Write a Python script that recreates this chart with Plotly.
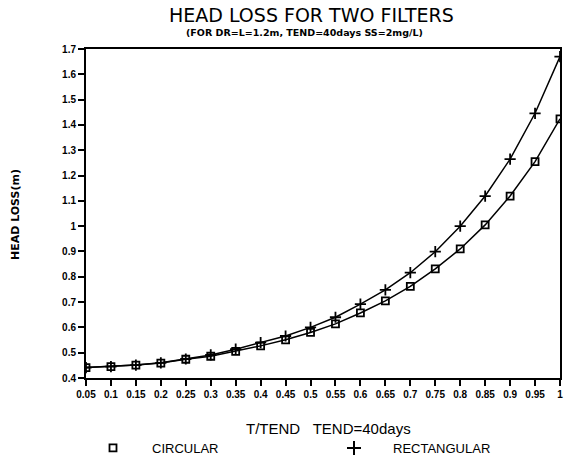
import plotly.graph_objects as go

# ---- data ----
t_ratio = [0.05, 0.1, 0.15, 0.2, 0.25, 0.3, 0.35, 0.4, 0.45, 0.5,
           0.55, 0.6, 0.65, 0.7, 0.75, 0.8, 0.85, 0.9, 0.95, 1.0]
circular = [0.441, 0.445, 0.451, 0.459, 0.474, 0.486, 0.505, 0.527, 0.551, 0.580,
            0.614, 0.657, 0.705, 0.762, 0.831, 0.910, 1.005, 1.119, 1.255, 1.424]
rectangular = [0.441, 0.445, 0.451, 0.460, 0.475, 0.491, 0.514, 0.540, 0.566, 0.600,
               0.640, 0.692, 0.748, 0.816, 0.899, 1.000, 1.119, 1.265, 1.446, 1.670]
x_ticks = t_ratio
x_tick_labels = ["0.05", "0.1", "0.15", "0.2", "0.25", "0.3", "0.35", "0.4", "0.45", "0.5",
                 "0.55", "0.6", "0.65", "0.7", "0.75", "0.8", "0.85", "0.9", "0.95", "1"]
y_ticks = [0.4, 0.5, 0.6, 0.7, 0.8, 0.9, 1.0, 1.1, 1.2, 1.3, 1.4, 1.5, 1.6, 1.7]
y_tick_labels = ["0.4", "0.5", "0.6", "0.7", "0.8", "0.9", "1", "1.1", "1.2", "1.3",
                 "1.4", "1.5", "1.6", "1.7"]

FONT = "Liberation Sans, Arial, sans-serif"
WIDE = "DejaVu Sans, Verdana, sans-serif"

sq_marker = dict(symbol="square-open", size=7, color="black", line=dict(width=1.8))
plus_marker = dict(symbol="cross-thin", size=8, color="black", line=dict(width=1.8, color="black"))

fig = go.Figure()
fig.add_trace(go.Scatter(
    x=t_ratio, y=circular, mode="lines+markers", name="CIRCULAR", showlegend=False,
    line=dict(color="black", width=1.5), marker=sq_marker,
))
fig.add_trace(go.Scatter(
    x=t_ratio, y=rectangular, mode="lines+markers", name="RECTANGULAR", showlegend=False,
    line=dict(color="black", width=1.5), marker=plus_marker,
))
# legend entries (symbol only, as in the original), each in its own legend box
fig.add_trace(go.Scatter(x=[None], y=[None], mode="markers", name="CIRCULAR",
                         marker=sq_marker, legend="legend"))
fig.add_trace(go.Scatter(x=[None], y=[None], mode="markers", name="RECTANGULAR",
                         marker=dict(symbol="cross-thin", size=10, color="black",
                                     line=dict(width=2, color="black")),
                         legend="legend2"))

leg_common = dict(orientation="h", xref="container", yref="container",
                  xanchor="left", y=(460 - 448) / 460, yanchor="middle", itemwidth=68,
                  font=dict(size=13, family=FONT, color="black"),
                  bgcolor="rgba(0,0,0,0)")

fig.update_layout(
    width=566, height=460,
    margin=dict(l=86, r=6, t=49, b=82, autoexpand=False),
    paper_bgcolor="white", plot_bgcolor="white",
    font=dict(family=FONT, color="black"),
    showlegend=True,
    legend=dict(x=74 / 566, **leg_common),
    legend2=dict(x=315 / 566, **leg_common),
    xaxis=dict(range=[0.05, 1.0], tickmode="array", tickvals=x_ticks, ticktext=x_tick_labels,
               showgrid=False, zeroline=False, showline=True, linecolor="black", linewidth=2,
               mirror=True, ticks="outside", ticklen=6, tickwidth=1.5, tickcolor="black",
               tickfont=dict(size=10, family=FONT, weight="bold")),
    yaxis=dict(range=[0.4, 1.7], tickmode="array", tickvals=y_ticks, ticktext=y_tick_labels,
               showgrid=False, zeroline=False, showline=True, linecolor="black", linewidth=2,
               mirror=True, ticks="outside", ticklen=6, tickwidth=1.5, tickcolor="black",
               tickfont=dict(size=10, family=FONT, weight="bold")),
    annotations=[
        dict(text="HEAD LOSS FOR TWO FILTERS", xref="paper", yref="paper", x=0.475, y=1.103,
             xanchor="center", yanchor="middle", showarrow=False,
             font=dict(size=19, family=WIDE)),
        dict(text="(FOR DR=L=1.2m, TEND=40days SS=2mg/L)", xref="paper", yref="paper",
             x=0.46, y=1.049, xanchor="center", yanchor="middle", showarrow=False,
             font=dict(size=9.5, family=WIDE, weight="bold")),
        dict(text="HEAD LOSS(m)", xref="paper", yref="paper", x=-0.150, y=0.498,
             xanchor="center", yanchor="middle", showarrow=False, textangle=-90,
             font=dict(size=11, family=WIDE, weight="bold")),
        dict(text="T/TEND&nbsp;&nbsp;&nbsp;TEND=40days", xref="paper", yref="paper",
             x=0.511, y=-0.152, xanchor="center", yanchor="middle", showarrow=False,
             font=dict(size=15, family=FONT)),
    ],
)

fig.write_html("out.html")
